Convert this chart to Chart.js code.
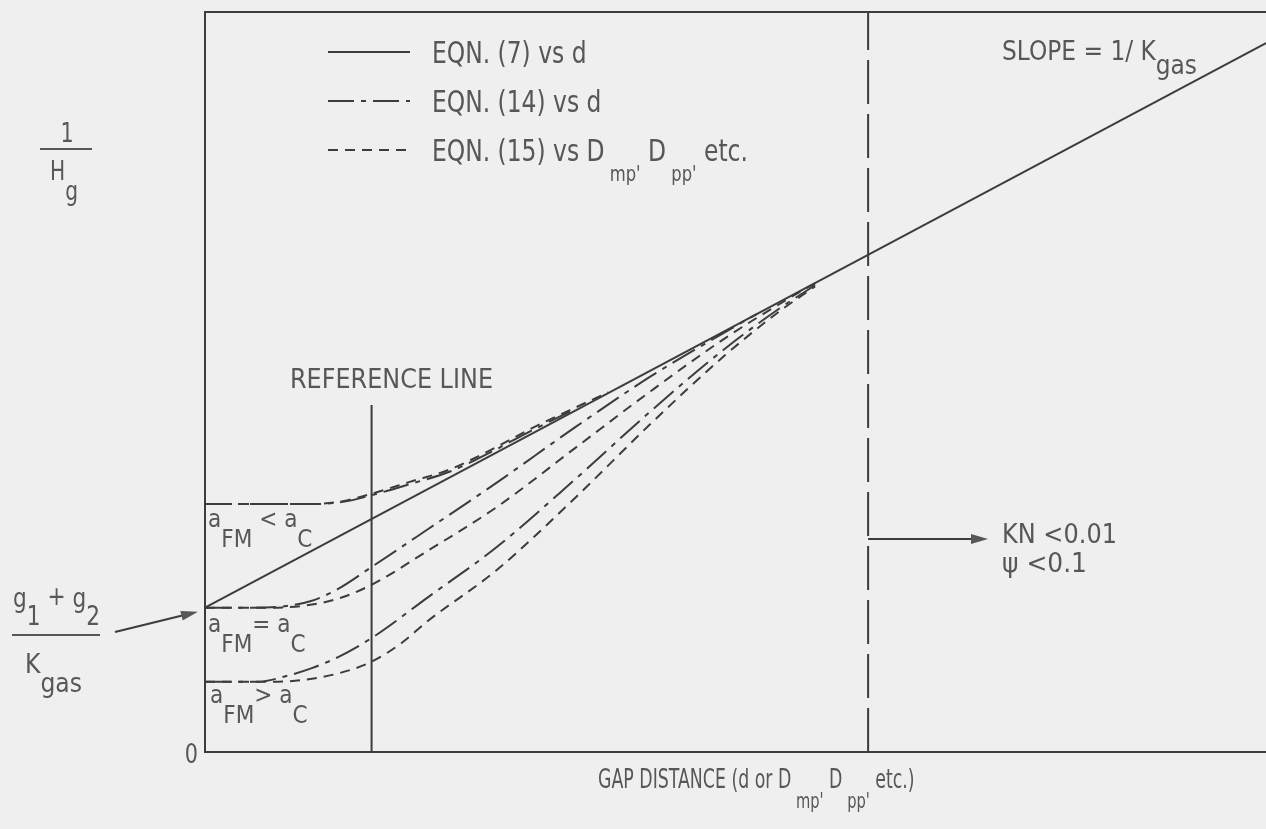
<!DOCTYPE html>
<html>
<head>
<meta charset="utf-8">
<script src="https://cdn.jsdelivr.net/npm/chart.js@4.4.0/dist/chart.umd.min.js"></script>
<style>
  html, body { margin: 0; padding: 0; background: #efefef; }
  canvas { display: block; }
</style>
</head>
<body>
<canvas id="grafico" width="1266" height="829"></canvas>
<script>
// valores (unidades arbitrarias, eixos de 0 a 10)

// eqn (7): reta
var xReta = [0, 10];
var yReta = [1.95, 9.58];

// eqn (14) - traco-ponto
var xEqn14Menor = [0, 1.0, 1.3, 1.57, 1.93, 2.31, 2.69, 3.06, 3.44];
var yEqn14Menor = [3.35, 3.35, 3.38, 3.47, 3.62, 3.79, 4.05, 4.33, 4.60];
var xEqn14Igual = [0, 0.45, 0.75, 1.0, 1.25, 1.57, 2.1, 2.75, 3.5, 4.2, 4.8, 5.2];
var yEqn14Igual = [1.95, 1.95, 1.97, 2.04, 2.2, 2.5, 3.01, 3.64, 4.40, 5.075, 5.59, 5.918];
var xEqn14Maior = [0, 0.5, 0.75, 1.0, 1.25, 1.57, 2.1, 2.75, 3.5, 4.2, 4.9, 5.4, 5.75];
var yEqn14Maior = [0.95, 0.95, 1.02, 1.13, 1.28, 1.54, 2.09, 2.77, 3.70, 4.605, 5.45, 5.98, 6.307];

// eqn (15) - tracejada
var xEqn15Menor = [0, 1.0, 1.3, 1.57, 1.93, 2.31, 2.69, 3.06, 3.44, 3.8];
var yEqn15Menor = [3.35, 3.35, 3.39, 3.49, 3.65, 3.82, 4.08, 4.36, 4.62, 4.86];
var xEqn15Igual = [0, 0.6, 0.95, 1.25, 1.57, 2.1, 2.75, 3.5, 4.2, 4.9, 5.5, 5.8];
var yEqn15Igual = [1.95, 1.95, 1.98, 2.07, 2.26, 2.72, 3.31, 4.12, 4.875, 5.59, 6.127, 6.375];
var xEqn15Maior = [0, 0.6, 0.9, 1.25, 1.57, 1.85, 2.1, 2.75, 3.5, 4.2, 4.9, 5.4, 5.75];
var yEqn15Maior = [0.95, 0.95, 0.97, 1.06, 1.22, 1.47, 1.77, 2.46, 3.45, 4.435, 5.36, 5.94, 6.29];

// linha de referencia e limite tracejado
var xLinhaRef = [1.57, 1.57];
var yLinhaRef = [0, 4.69];
var xLimite = [6.25, 6.25];
var yLimite = [0, 10];

// textos da legenda ([texto, deslocamento do subscrito, tamanho relativo])
var rotulosLegenda = [
  [['EQN. (7) vs d', 0]],
  [['EQN. (14) vs d', 0]],
  [['EQN. (15) vs D', 0], [" mp'", 20, 0.7], [' D', 0], [" pp'", 20, 0.7], [' etc.', 0]]
];

var corLinha = '#3c3c3c';
var corTexto = '#575757';
var traco14 = [26, 7, 5, 7];
var traco15 = [10, 7];

// junta x e y em pontos
function juntaPontos(xs, ys) {
  var pts = [];
  for (var i = 0; i < xs.length; i++) {
    pts.push({ x: xs[i], y: ys[i] });
  }
  return pts;
}

function fazDataset(xs, ys, traco, suave) {
  return {
    data: juntaPontos(xs, ys),
    showLine: true,
    borderColor: corLinha,
    borderWidth: 2,
    borderDash: traco,
    pointRadius: 0,
    fill: false,
    cubicInterpolationMode: suave ? 'monotone' : 'default',
    tension: 0
  };
}

var datasets = [
  fazDataset(xReta, yReta, [], false),
  fazDataset(xEqn14Menor, yEqn14Menor, traco14, true),
  fazDataset(xEqn14Igual, yEqn14Igual, traco14, true),
  fazDataset(xEqn14Maior, yEqn14Maior, traco14, true),
  fazDataset(xEqn15Menor, yEqn15Menor, traco15, true),
  fazDataset(xEqn15Igual, yEqn15Igual, traco15, true),
  fazDataset(xEqn15Maior, yEqn15Maior, traco15, true),
  fazDataset(xLinhaRef, yLinhaRef, [], false),
  fazDataset(xLimite, yLimite, [44, 10], false)
];

// escreve texto com subscritos; escala horizontal fixa ou ajustada a largura
function escreve(ctx, partes, x, y, tamanho, escala, largura, alinha) {
  ctx.save();
  ctx.textBaseline = 'alphabetic';
  ctx.textAlign = 'left';
  var medidas = [];
  var total = 0;
  for (var i = 0; i < partes.length; i++) {
    ctx.font = Math.round(tamanho * (partes[i][2] || 1)) + 'px "DejaVu Sans"';
    var w = ctx.measureText(partes[i][0]).width;
    medidas.push(w);
    total += w;
  }
  if (largura) escala = largura / total;
  var x0 = x;
  if (alinha === 'centro') x0 = x - total * escala / 2;
  if (alinha === 'direita') x0 = x - total * escala;
  ctx.translate(x0, y);
  ctx.scale(escala, 1);
  var cx = 0;
  for (var j = 0; j < partes.length; j++) {
    ctx.font = Math.round(tamanho * (partes[j][2] || 1)) + 'px "DejaVu Sans"';
    ctx.fillText(partes[j][0], cx, partes[j][1] || 0);
    cx += medidas[j];
  }
  ctx.restore();
}

// seta com ponta cheia
function seta(ctx, x1, y1, x2, y2) {
  var a = Math.atan2(y2 - y1, x2 - x1);
  var c = Math.cos(a), s = Math.sin(a);
  ctx.beginPath();
  ctx.moveTo(x1, y1);
  ctx.lineTo(x2 - 12 * c, y2 - 12 * s);
  ctx.stroke();
  ctx.beginPath();
  ctx.moveTo(x2, y2);
  ctx.lineTo(x2 - 17 * c + 5 * s, y2 - 17 * s - 5 * c);
  ctx.lineTo(x2 - 17 * c - 5 * s, y2 - 17 * s + 5 * c);
  ctx.closePath();
  ctx.fill();
}

var fundo = {
  id: 'fundo',
  beforeDraw: function(chart) {
    var ctx = chart.ctx;
    ctx.save();
    ctx.fillStyle = '#efefef';
    ctx.fillRect(0, 0, chart.width, chart.height);
    ctx.restore();
  }
};

var anotacoes = {
  id: 'anotacoes',
  afterDatasetsDraw: function(chart) {
    var ctx = chart.ctx;
    var sx = chart.scales.x, sy = chart.scales.y;
    ctx.save();
    ctx.fillStyle = corTexto;
    ctx.strokeStyle = corLinha;
    ctx.lineWidth = 2;

    // legenda no topo
    var tracos = [[], traco14, traco15];
    for (var i = 0; i < 3; i++) {
      var yy = 52 + i * 49;
      ctx.setLineDash(tracos[i]);
      ctx.beginPath();
      ctx.moveTo(328, yy);
      ctx.lineTo(410, yy);
      ctx.stroke();
      escreve(ctx, rotulosLegenda[i], 432, yy + 11, 30, 0.78);
    }
    ctx.setLineDash([]);

    // titulo do eixo y: 1 / Hg
    escreve(ctx, [['1', 0]], 67, 142, 26, 0.8, null, 'centro');
    ctx.fillRect(40, 148, 52, 2);
    escreve(ctx, [['H', 0], ['g', 20]], 50, 180, 26, 1, 28);

    // (g1 + g2) / Kgas com seta
    escreve(ctx, [['g', 0], ['1', 18], [' + ', -2], ['g', 0], ['2', 18]], 13, 607, 26, 1, 87);
    ctx.fillRect(12, 634, 88, 2);
    escreve(ctx, [['K', 0], ['gas', 19]], 25, 673, 26, 1, 57);
    seta(ctx, 115, 632, sx.getPixelForValue(0) - 7, sy.getPixelForValue(1.95) + 4);

    // zero do eixo
    escreve(ctx, [['0', 0]], 198, 763, 26, 0.8, null, 'direita');

    escreve(ctx, [['REFERENCE LINE', 0]], 290, 388, 26, 1, 203);

    // rotulos das curvas
    escreve(ctx, [['a', 0], ['FM', 20], [' <', 0], [' a', 0], ['C', 20]], 208, 527, 24, 0.9);
    escreve(ctx, [['a', 0], ['FM', 20], ['=', 0], [' a', 0], ['C', 20]], 208, 632, 24, 0.9);
    escreve(ctx, [['a', 0], ['FM', 20], ['>', 0], [' a', 0], ['C', 20]], 210, 703, 24, 0.9);

    escreve(ctx, [['SLOPE = 1/ K', 0], ['gas', 14]], 1002, 60, 26, 1, 195);

    // KN e psi com seta a partir do limite
    seta(ctx, sx.getPixelForValue(6.25), 539, 988, 539);
    escreve(ctx, [['KN <0.01', 0]], 1002, 543, 26, 1, 115);
    escreve(ctx, [['\u03C8 <0.1', 0]], 1002, 572, 26, 1, 85);

    // titulo do eixo x
    escreve(ctx, [['GAP DISTANCE (d or D', 0], [" mp'", 20, 0.85], [' D', 0], [" pp'", 20, 0.85], [' etc.)', 0]],
      598, 788, 26, 0.667);

    ctx.restore();
  }
};

var eixo = {
  type: 'linear',
  min: 0,
  max: 10,
  ticks: { display: false },
  grid: { display: false },
  border: { display: true, color: corLinha, width: 2 }
};

var ctx = document.getElementById('grafico').getContext('2d');
var grafico = new Chart(ctx, {
  type: 'scatter',
  data: { datasets: datasets },
  options: {
    responsive: false,
    animation: false,
    devicePixelRatio: 1,
    layout: { padding: { left: 197, top: 4, right: 0, bottom: 69 } },
    plugins: {
      legend: { display: false },
      tooltip: { enabled: false }
    },
    scales: {
      x: Object.assign({}, eixo, { position: 'bottom' }),
      x2: Object.assign({}, eixo, { position: 'top' }),
      y: Object.assign({}, eixo, { position: 'left' })
    }
  },
  plugins: [fundo, anotacoes]
});
</script>
</body>
</html>
